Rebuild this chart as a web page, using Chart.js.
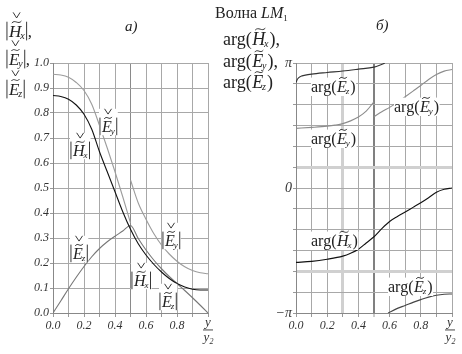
<!DOCTYPE html>
<html><head><meta charset="utf-8">
<script src="https://cdn.jsdelivr.net/npm/chart.js@4.4.1/dist/chart.umd.min.js"></script>
<style>
html,body{margin:0;padding:0;background:#fff;overflow:hidden}
#wrap{position:relative;width:462px;height:354px}
canvas{position:absolute;left:0;top:0}
</style></head>
<body><div id="wrap"><canvas id="cA" width="462" height="354"></canvas><canvas id="cB" width="462" height="354"></canvas></div>
<script>
// ---------- data ----------
const xTickValues = [0,0.1,0.2,0.3,0.4,0.5,0.6,0.7,0.8,0.9,1.0];
const xTickLabels = ['0.0','','0.2','','0.4','','0.6','','0.8','',''];
const yTickValuesA = [0,0.1,0.2,0.3,0.4,0.5,0.6,0.7,0.8,0.9,1.0];
const yTickLabelsA = ['0.0','0.1','0.2','0.3','0.4','0.5','0.6','0.7','0.8','0.9','1.0'];
// right panel values in units of π
const yTickValuesB = [-1,-5/6,-4/6,-3/6,-2/6,-1/6,0,1/6,2/6,3/6,4/6,5/6,1];
const yTickLabelsB = ['\u2212\u03c0','','','','','','0','','','','','','\u03c0'];

const X1 = [0,0.05,0.1,0.15,0.2,0.25,0.3,0.35,0.4,0.45,0.5];
const X2 = [0.5,0.55,0.6,0.65,0.7,0.75,0.8,0.85,0.9,0.95,1.0];
const absHx1 = [0.870,0.866,0.855,0.832,0.795,0.735,0.645,0.565,0.485,0.405,0.335];
const absHx2 = [0.335,0.277,0.232,0.195,0.164,0.138,0.118,0.104,0.095,0.092,0.092];
const absEy1 = [0.955,0.952,0.943,0.922,0.890,0.835,0.750,0.660,0.565,0.465,0.360];
const absEy2 = [0.532,0.440,0.375,0.318,0.272,0.236,0.207,0.185,0.170,0.161,0.157];
const absEz1 = [0.000,0.048,0.097,0.143,0.186,0.225,0.258,0.285,0.307,0.328,0.350];
const absEz2 = [0.350,0.298,0.252,0.212,0.177,0.146,0.118,0.090,0.061,0.031,0.000];

const argXEz1 = [0,0.01,0.03,0.06,0.1,0.2,0.3,0.4,0.5,0.54,0.57];
const argEz1  = [0.845,0.872,0.893,0.903,0.911,0.924,0.936,0.951,0.967,0.984,1.0];
const argXEz2 = [0.59,0.65,0.7,0.75,0.8,0.85,0.9,0.95,1.0];
const argEz2  = [-1.0,-0.963,-0.94,-0.915,-0.893,-0.873,-0.858,-0.85,-0.848];
const argXEy1 = [0,0.1,0.2,0.25,0.3,0.35,0.4,0.45,0.5];
const argEy1  = [0.477,0.485,0.495,0.503,0.515,0.537,0.568,0.615,0.69];
const argEy2  = [0.57,0.61,0.645,0.685,0.73,0.775,0.82,0.868,0.908,0.935,0.948];
const argXHx  = [0,0.1,0.2,0.3,0.35,0.4,0.45,0.5,0.55,0.6,0.65,0.7,0.75,0.8,0.85,0.9,0.95,1.0];
const argHx   = [-0.595,-0.587,-0.57,-0.545,-0.522,-0.49,-0.44,-0.39,-0.325,-0.268,-0.228,-0.192,-0.155,-0.118,-0.078,-0.034,-0.01,0.0];

// ---------- helpers ----------
const SERIF = '"Liberation Serif","Times New Roman",serif';
const TXT = '#222';
const pts = (xs, ys) => xs.map((x,i)=>({x:x, y:ys[i]}));

function sym(ctx, x, y, L, sub, size, check, measure) {
  ctx.font = 'italic ' + size + 'px ' + SERIF;
  const w = ctx.measureText(L).width;
  ctx.font = 'italic ' + Math.round(size*0.58) + 'px ' + SERIF;
  const sw = ctx.measureText(sub).width;
  const total = w - size*0.06 + sw;
  if (measure) return total;
  ctx.font = 'italic ' + size + 'px ' + SERIF;
  ctx.fillText(L, x, y);
  const cx = x + w*0.62, ty = y - size*0.88, tw = w*0.78;
  ctx.lineWidth = 0.9;
  ctx.beginPath();
  ctx.moveTo(cx - tw/2, ty + 1);
  ctx.bezierCurveTo(cx - tw/6, ty - 3, cx + tw/6, ty + 3, cx + tw/2, ty - 1);
  ctx.stroke();
  if (check) {
    ctx.beginPath();
    ctx.moveTo(cx - 3.5, y - size*1.45);
    ctx.lineTo(cx, y - size*1.12);
    ctx.lineTo(cx + 3.5, y - size*1.45);
    ctx.stroke();
  }
  ctx.font = 'italic ' + Math.round(size*0.58) + 'px ' + SERIF;
  ctx.fillText(sub, x + w - size*0.06, y + size*0.12);
  return total;
}
function absLabel(ctx, x, y, L, sub, size, suffix, bg) {
  const inner = sym(ctx, 0, 0, L, sub, size, true, true);
  ctx.font = size + 'px ' + SERIF;
  const suf = suffix ? ctx.measureText(suffix).width : 0;
  const total = 3 + inner + 3 + suf;
  if (bg) { ctx.fillStyle = '#fff'; ctx.fillRect(x, y - size*1.45, total, size*1.65); }
  ctx.fillStyle = TXT; ctx.strokeStyle = TXT;
  ctx.fillRect(x + 0.5, y - size*0.9, 0.9, size*1.1);
  sym(ctx, x + 3, y, L, sub, size, true, false);
  ctx.fillRect(x + 3 + inner + 1.5, y - size*0.9, 0.9, size*1.1);
  if (suffix) { ctx.font = size + 'px ' + SERIF; ctx.fillText(suffix, x + 3 + inner + 3, y); }
}
function argLabel(ctx, x, y, L, sub, size, suffix, bg) {
  ctx.font = size + 'px ' + SERIF;
  const w1 = ctx.measureText('arg(').width;
  const inner = sym(ctx, 0, 0, L, sub, size, false, true);
  ctx.font = size + 'px ' + SERIF;
  const w2 = ctx.measureText(')' + (suffix||'')).width;
  if (bg) { ctx.fillStyle = '#fff'; ctx.fillRect(x, y - size*0.9, w1 + inner + w2 + 2, size*1.15); }
  ctx.fillStyle = TXT; ctx.strokeStyle = TXT;
  ctx.font = size + 'px ' + SERIF;
  ctx.fillText('arg(', x, y);
  sym(ctx, x + w1 + 0.5, y, L, sub, size, false, false);
  ctx.font = size + 'px ' + SERIF;
  ctx.fillText(')' + (suffix||''), x + w1 + inner + 1.5, y);
}
function fraction(ctx, cx) {
  ctx.fillStyle = '#333'; ctx.strokeStyle = '#333';
  ctx.font = 'italic 13px ' + SERIF;
  ctx.textAlign = 'center';
  ctx.fillText('y', cx, 326);
  ctx.fillRect(cx - 5, 329.5, 10, 0.9);
  ctx.fillText('y', cx - 1.5, 341);
  ctx.font = 'italic 8px ' + SERIF;
  ctx.fillText('2', cx + 3.5, 344);
  ctx.textAlign = 'left';
}

function xScale(gridColor, gridWidth) {
  return {
    type: 'linear', min: 0, max: 1,
    afterBuildTicks: s => { s.ticks = xTickValues.map(v => ({value: v})); },
    afterFit: s => { s.height = 41; },
    ticks: { autoSkip: false, maxRotation: 0, padding: 2, color: '#333',
      font: {family: SERIF, style: 'italic', size: 12},
      callback: (v, i) => xTickLabels[i] },
    grid: { color: gridColor, lineWidth: gridWidth, tickLength: 4, tickColor: '#999', tickWidth: 1 },
    border: { display: true, color: '#888', width: 1 }
  };
}

// ---------- chart A ----------
const plugA = {
  id: 'decoA',
  afterDraw(chart) {
    const ctx = chart.ctx;
    ctx.save();
    ctx.fillStyle = TXT; ctx.strokeStyle = TXT; ctx.textBaseline = 'alphabetic';
    // title
    ctx.font = '16px ' + SERIF;
    ctx.fillText('Волна ', 215, 18);
    let w = ctx.measureText('Волна ').width;
    ctx.font = 'italic 16px ' + SERIF;
    ctx.fillText('LM', 215 + w, 18);
    const w2 = ctx.measureText('LM').width;
    ctx.font = '9px ' + SERIF;
    ctx.fillText('1', 215 + w + w2, 21);
    // a)
    ctx.font = 'italic 15px ' + SERIF;
    ctx.fillText('a)', 125, 31);
    // y title
    absLabel(ctx, 6, 37, 'H', 'x', 17, ',', false);
    absLabel(ctx, 6, 65, 'E', 'y', 17, ',', false);
    absLabel(ctx, 6, 95, 'E', 'z', 17, '', false);
    // in-plot labels
    absLabel(ctx, 99, 132, 'E', 'y', 16, '', true);
    absLabel(ctx, 70, 156, 'H', 'x', 16, '', true);
    absLabel(ctx, 70, 259, 'E', 'z', 16, '', true);
    absLabel(ctx, 162, 246, 'E', 'y', 16, '', true);
    absLabel(ctx, 131, 286, 'H', 'x', 16, '', true);
    absLabel(ctx, 159, 307, 'E', 'z', 16, '', true);
    fraction(ctx, 208);
    ctx.restore();
  }
};

new Chart(document.getElementById('cA'), {
  type: 'line',
  data: { datasets: [
    { data: pts(X1, absEy1), borderColor: '#9c9c9c' },
    { data: pts(X2, absEy2), borderColor: '#9c9c9c' },
    { data: pts(X1.concat(X2.slice(1)), absHx1.concat(absHx2.slice(1))), borderColor: '#111' },
    { data: pts(X1.concat(X2.slice(1)), absEz1.concat(absEz2.slice(1))), borderColor: '#777' }
  ]},
  options: {
    responsive: false, animation: false, devicePixelRatio: 1,
    layout: { padding: {left: 0, right: 254, top: 63, bottom: 0} },
    elements: { point: {radius: 0}, line: {borderWidth: 1.1, cubicInterpolationMode: 'monotone', fill: false} },
    plugins: { legend: {display: false}, tooltip: {enabled: false} },
    scales: {
      x: xScale(c => (c.index === 5 ? '#8a8a8a' : '#a8a8a8'), 1),
      y: {
        type: 'linear', min: 0, max: 1,
        afterBuildTicks: s => { s.ticks = yTickValuesA.map(v => ({value: v})); },
        afterFit: s => { s.width = 53; },
        ticks: { autoSkip: false, padding: 1, color: '#333',
          font: {family: SERIF, style: 'italic', size: 12},
          callback: (v, i) => yTickLabelsA[i] },
        grid: { color: '#a8a8a8', lineWidth: 1, tickLength: 3, tickColor: '#999' },
        border: { display: true, color: '#888', width: 1 }
      }
    }
  },
  plugins: [plugA]
});

// ---------- chart B ----------
const plugB = {
  id: 'decoB',
  afterDraw(chart) {
    const ctx = chart.ctx;
    ctx.save();
    ctx.fillStyle = TXT; ctx.strokeStyle = TXT; ctx.textBaseline = 'alphabetic';
    ctx.font = 'italic 15px ' + SERIF;
    ctx.fillText('б)', 376, 30);
    argLabel(ctx, 223, 45, 'H', 'x', 18, ',', false);
    argLabel(ctx, 223, 67, 'E', 'y', 18, ',', false);
    argLabel(ctx, 223, 88, 'E', 'z', 18, '', false);
    argLabel(ctx, 311, 92, 'E', 'z', 16, '', true);
    argLabel(ctx, 311, 144, 'E', 'y', 16, '', true);
    argLabel(ctx, 394, 112, 'E', 'y', 16, '', true);
    argLabel(ctx, 311, 246, 'H', 'x', 16, '', true);
    argLabel(ctx, 388, 292, 'E', 'z', 16, '', true);
    fraction(ctx, 450);
    ctx.restore();
  }
};

new Chart(document.getElementById('cB'), {
  type: 'line',
  data: { datasets: [
    { data: pts(argXEz1, argEz1), borderColor: '#333' },
    { data: pts(argXEz2, argEz2), borderColor: '#444' },
    { data: pts(argXEy1, argEy1), borderColor: '#8c8c8c' },
    { data: pts(X2, argEy2), borderColor: '#8c8c8c' },
    { data: pts(argXHx, argHx), borderColor: '#111' }
  ]},
  options: {
    responsive: false, animation: false, devicePixelRatio: 1,
    layout: { padding: {left: 256, right: 10, top: 63, bottom: 0} },
    elements: { point: {radius: 0}, line: {borderWidth: 1.1, cubicInterpolationMode: 'monotone', fill: false} },
    plugins: { legend: {display: false}, tooltip: {enabled: false} },
    scales: {
      x: xScale(c => (c.index === 3 ? '#d0d0d0' : (c.index === 5 ? '#808080' : '#a8a8a8')),
                c => (c.index === 3 ? 3 : (c.index === 5 ? 2 : 1))),
      y: {
        type: 'linear', min: -1, max: 1,
        afterBuildTicks: s => { s.ticks = yTickValuesB.map(v => ({value: v})); },
        afterFit: s => { s.width = 40; },
        ticks: { autoSkip: false, padding: 1, color: '#333',
          font: {family: SERIF, style: 'italic', size: 14},
          callback: (v, i) => yTickLabelsB[i] },
        grid: { color: c => ((c.index === 7 || c.index === 2) ? '#d0d0d0' : '#a8a8a8'),
                lineWidth: c => ((c.index === 7 || c.index === 2) ? 3 : 1),
                tickLength: 3, tickColor: '#999', tickWidth: 1 },
        border: { display: true, color: '#888', width: 1 }
      }
    }
  },
  plugins: [plugB]
});
</script>
</body></html>
